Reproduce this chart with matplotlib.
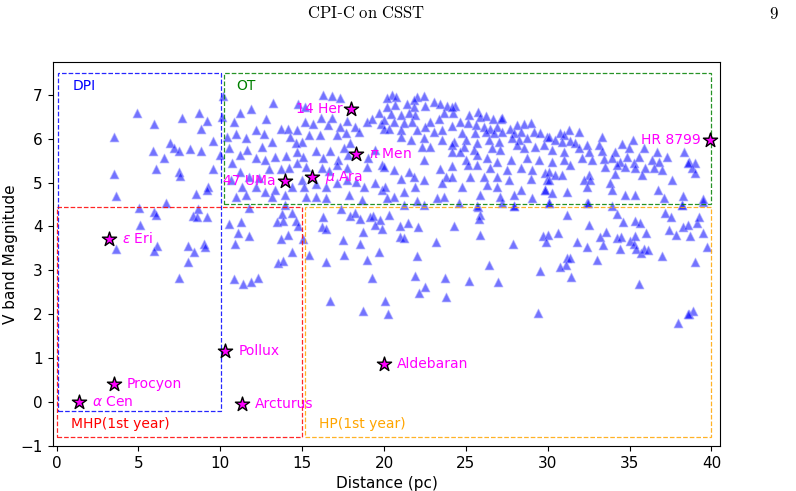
import numpy as np
import matplotlib
matplotlib.use("Agg")
import matplotlib.pyplot as plt
from matplotlib.patches import Rectangle

# --- target sample (distance in pc, V magnitude) ---
# DPI region (d < 10 pc)
dist_near = [4.89, 5.96, 3.48, 7.63, 8.69, 9.16, 8.84, 9.55, 6.94, 7.19, 7.45, 5.90,
             8.14, 8.83, 6.53, 9.98, 3.48, 6.05, 7.45, 7.55, 9.55, 9.24, 9.18, 8.53,
             3.62, 6.70, 5.05, 5.96, 6.09, 8.65, 8.35, 8.59, 9.16, 5.09, 3.64, 6.13,
             5.96, 8.04, 8.41, 8.98, 9.06, 8.02, 7.47]
vmag_near = [6.59, 6.33, 6.04, 6.48, 6.58, 6.40, 6.21, 5.95, 5.91, 5.79, 5.73, 5.72,
             5.76, 5.72, 5.56, 5.63, 5.19, 5.31, 5.25, 5.16, 5.31, 4.89, 4.83, 4.74,
             4.69, 4.54, 4.43, 4.32, 4.25, 4.39, 4.23, 4.22, 4.22, 4.03, 3.48, 3.56,
             3.45, 3.55, 3.42, 3.59, 3.52, 3.19, 2.82]

# fainter part below V = 4.5
dist_low = [11.77, 13.74, 14.35, 13.98, 13.48, 13.82, 14.64, 14.76, 10.53, 11.24, 11.11,
            11.77, 10.91, 13.72, 14.15, 15.04, 14.35, 13.50, 13.82, 15.41, 10.81, 11.38,
            11.87, 12.32, 16.27, 16.22, 16.47, 17.40, 17.93, 18.22, 18.53, 19.13, 19.30,
            19.73, 19.48, 19.87, 20.30, 18.71, 17.51, 18.56, 17.57, 19.69, 18.97, 16.43,
            19.26, 16.73, 18.73, 20.09, 20.23, 20.97, 21.44, 22.07, 20.95, 21.23, 23.17,
            24.27, 21.99, 21.90, 22.49, 22.13, 23.74, 23.76,
            25.73, 25.89, 25.79, 25.85, 26.42, 25.18, 26.95, 27.89, 31.19, 32.55, 29.74,
            30.00, 29.92, 30.64, 31.78, 32.39, 31.17, 31.39, 31.10, 30.78, 31.41, 29.52,
            29.42, 33.02, 33.18, 33.57, 33.38, 34.24, 34.58, 34.24, 34.50, 34.42, 35.01,
            35.26, 35.36, 35.40, 35.70, 35.87, 36.15, 35.36, 35.66, 35.99, 35.56, 36.97,
            37.17, 37.56, 37.40, 37.84, 38.25, 38.57, 38.68, 39.15, 39.25, 39.47, 39.74,
            38.98, 38.88, 38.62, 37.98, 38.57, 27.18, 27.97, 30.11, 32.43, 33.95, 38.23,
            39.50, 10.18, 10.12, 10.42]
vmag_low = [4.42, 4.28, 4.31, 4.48, 4.09, 4.13, 4.12, 4.02, 4.05, 4.09, 3.86,
            3.78, 3.60, 3.71, 3.80, 3.71, 3.42, 3.17, 3.21, 3.36, 2.81, 2.68,
            2.74, 2.83, 4.21, 3.99, 3.95, 4.39, 4.24, 4.30, 4.16, 4.21, 4.24,
            4.15, 4.03, 3.94, 4.26, 3.87, 3.69, 3.61, 3.36, 3.42, 3.23, 3.18,
            2.83, 2.29, 2.07, 2.29, 2.01, 4.01, 4.07, 3.99, 3.75, 3.74, 3.65,
            4.01, 3.33, 2.86, 2.63, 2.48, 2.82, 2.40,
            4.45, 4.26, 4.17, 3.81, 3.12, 2.76, 2.73, 3.61, 4.27, 4.03, 3.78,
            3.80, 3.64, 3.85, 3.65, 3.54, 3.29, 3.29, 3.11, 3.07, 2.85, 2.98,
            2.03, 3.23, 3.77, 3.87, 3.58, 4.28, 4.11, 3.73, 3.77, 3.48, 3.66,
            3.61, 3.78, 3.48, 3.40, 3.48, 3.46, 4.13, 4.08, 3.85, 2.69, 3.33,
            4.31, 4.22, 3.92, 3.80, 3.98, 4.04, 3.78, 4.08, 4.22, 3.86, 3.54,
            3.19, 2.08, 2.01, 1.81, 2.00, 4.53, 4.46, 4.54, 4.54, 4.46, 4.49,
            4.55, 6.97, 6.49, 6.04]

# OT region, 10-20 pc
dist_mid = [13.21, 16.27, 16.84, 17.32, 14.74, 15.17, 11.18, 11.85, 10.85, 12.19, 12.81,
            10.97, 11.59, 12.66, 13.68, 14.15, 14.66, 15.17, 15.65, 16.18, 16.59, 16.84,
            17.34, 17.75, 18.20, 18.97, 19.28, 19.79, 19.68, 19.99, 18.47, 17.65, 17.14,
            16.06, 15.41, 14.96, 14.60, 14.23, 13.17, 12.56, 11.64, 11.18, 10.53, 10.69,
            12.15, 12.76, 13.37, 14.03, 14.70, 15.04, 15.82, 16.27, 16.73, 17.18, 17.55,
            17.81, 17.95, 19.03, 19.48, 19.89, 18.97, 17.75, 17.14, 16.67, 16.22, 15.21,
            14.70, 14.19, 13.68, 12.97, 12.36, 11.74, 11.18, 10.63, 11.34, 12.15, 12.76,
            13.37, 14.39, 14.96, 15.10, 15.82, 16.47, 17.14, 17.75, 18.26, 18.77, 19.44,
            19.89, 13.98, 15.21, 15.82, 16.43, 17.85, 18.67, 11.54, 10.93, 13.17]
vmag_mid = [6.82, 6.99, 6.97, 6.92, 6.79, 6.73, 6.58, 6.67, 6.37, 6.20, 6.44,
            6.10, 6.01, 6.10, 6.21, 6.23, 6.20, 6.37, 6.33, 6.46, 6.31, 6.46,
            6.27, 6.41, 6.27, 6.37, 6.44, 6.33, 6.58, 6.23, 6.16, 6.12, 6.08,
            6.08, 6.08, 5.93, 5.89, 6.03, 5.93, 5.82, 5.74, 5.63, 5.78, 5.44,
            5.55, 5.51, 5.59, 5.60, 5.70, 5.59, 5.72, 5.57, 5.72, 5.51, 5.78,
            5.63, 5.89, 5.57, 5.74, 5.40, 5.36, 5.32, 5.40, 5.27, 5.32, 5.36,
            5.45, 5.32, 5.30, 5.30, 5.10, 5.13, 5.25, 5.06, 4.89, 4.90, 4.79,
            4.84, 4.90, 5.06, 4.90, 4.97, 4.89, 4.98, 5.06, 5.02, 4.90, 4.98,
            4.83, 4.72, 4.68, 4.68, 4.64, 4.72, 4.60, 4.72, 4.68, 4.68]

# OT region, 20-30 pc
dist_far = [20.50, 20.19, 20.76, 22.03, 22.43, 21.83, 20.70, 20.19, 21.42, 21.83, 22.53,
            23.04, 23.45, 23.86, 24.31, 23.65, 24.22, 25.18, 25.73, 25.89, 26.26, 26.67,
            27.15, 28.13, 28.58, 29.01, 20.40, 21.01, 21.52, 21.92, 19.99, 20.60, 21.21,
            21.72, 22.84, 23.35, 24.67, 25.12, 25.59, 24.16, 26.09, 26.50, 26.91, 27.69,
            20.30, 21.01, 22.03, 22.53, 23.04, 23.55, 24.78, 25.53, 26.26, 26.71, 27.22,
            27.93, 28.34, 29.15, 29.56, 29.97, 21.01, 21.62, 22.43, 23.55, 24.26, 24.98,
            25.69, 26.40, 27.01, 27.83, 28.23, 28.74, 28.13, 28.54, 29.25, 29.76, 22.33,
            22.80, 24.16, 24.87, 25.48, 26.60, 27.11, 24.16, 24.67, 25.69, 26.30, 26.91,
            27.73, 28.74, 29.45, 22.43, 24.16, 24.98, 25.12, 25.69, 26.50, 27.52, 28.34,
            29.05, 29.86, 20.60, 21.52, 23.41, 19.99, 21.01, 21.83, 22.43, 23.76, 24.16,
            25.28, 26.09, 26.91, 27.63, 28.95, 29.97, 20.09, 21.21, 21.92, 23.55, 24.78,
            26.30, 26.91, 28.34, 29.86, 20.60, 22.03, 23.25, 23.65, 25.89, 27.11, 27.93,
            29.05, 21.21, 22.43, 24.57, 25.69, 27.93, 20.19, 24.16, 27.22]
vmag_far = [6.99, 6.92, 6.95, 6.95, 6.97, 6.88, 6.77, 6.73, 6.79, 6.73, 6.75,
            6.84, 6.80, 6.74, 6.74, 6.58, 6.58, 6.54, 6.61, 6.50, 6.52, 6.44,
            6.44, 6.31, 6.33, 6.35, 6.56, 6.54, 6.58, 6.54, 6.42, 6.39, 6.35,
            6.39, 6.39, 6.44, 6.37, 6.35, 6.31, 6.29, 6.27, 6.23, 6.27, 6.23,
            6.23, 6.20, 6.20, 6.27, 6.16, 6.20, 6.12, 6.12, 6.16, 6.12, 6.16,
            6.12, 6.16, 6.16, 6.12, 6.04, 6.04, 5.98, 6.01, 5.98, 5.93, 5.97,
            5.89, 5.97, 5.93, 6.01, 5.97, 6.01, 5.85, 5.78, 5.82, 5.85, 5.82,
            5.82, 5.85, 5.82, 5.74, 5.78, 5.74, 5.70, 5.70, 5.63, 5.55, 5.47,
            5.51, 5.57, 5.51, 5.51, 5.38, 5.51, 5.40, 5.40, 5.32, 5.28, 5.32,
            5.28, 5.21, 5.28, 5.25, 5.30, 5.36, 5.07, 5.12, 5.06, 5.13, 5.13,
            5.13, 5.13, 5.13, 5.06, 5.09, 5.06, 4.90, 4.79, 4.90, 4.98, 4.90,
            4.94, 4.90, 4.83, 4.83, 4.68, 4.59, 4.64, 4.68, 4.72, 4.68, 4.72,
            4.64, 4.49, 4.49, 4.53, 4.46, 4.46, 4.64, 6.73, 6.46]

# OT region, 30-40 pc
dist_edge = [30.78, 31.28, 31.90, 30.98, 30.06, 30.47, 30.88, 31.39, 31.69, 32.41, 33.32,
             33.12, 34.55, 35.20, 34.95, 34.14, 35.87, 36.68, 38.31, 30.27, 30.98, 31.90,
             32.52, 33.32, 30.27, 30.98, 31.39, 32.10, 32.71, 33.42, 33.93, 34.44, 34.85,
             35.26, 35.56, 36.38, 36.79, 37.30, 38.62, 38.98, 33.53, 34.24, 34.75, 35.36,
             35.97, 36.48, 36.99, 38.82, 30.06, 30.47, 30.88, 32.52, 34.14, 35.77, 37.60,
             30.06, 32.21, 32.61, 33.83, 32.41, 33.93, 29.86, 30.27, 31.19, 34.75, 35.32,
             36.74, 37.08, 38.25, 39.47, 30.06, 32.46, 38.21, 39.02, 38.60]
vmag_edge = [6.13, 6.20, 6.16, 6.08, 6.04, 5.97, 5.93, 5.95, 5.89, 5.85, 6.03,
             5.85, 5.88, 5.97, 5.78, 5.70, 5.78, 5.70, 5.70, 5.74, 5.70, 5.78,
             5.70, 5.72, 5.47, 5.51, 5.40, 5.55, 5.51, 5.53, 5.55, 5.47, 5.59,
             5.44, 5.59, 5.51, 5.47, 5.59, 5.47, 5.44, 5.36, 5.40, 5.36, 5.32,
             5.32, 5.32, 5.28, 5.32, 5.25, 5.17, 5.17, 5.17, 5.19, 5.17, 5.06,
             5.06, 5.06, 5.06, 4.98, 4.90, 4.83, 4.83, 4.77, 4.79, 4.72, 4.72,
             4.83, 4.64, 4.69, 4.62, 4.53, 4.53, 4.49, 5.21, 5.45]

# named bright stars
star_names = [r"$\alpha$ Cen", "Procyon", r"$\epsilon$ Eri", "Pollux", "Arcturus",
              "Aldebaran", "47 UMa", r"$\mu$ Ara", "14 Her", r"$\pi$ Men", "HR 8799"]
star_dist = [1.35, 3.5, 3.2, 10.3, 11.3, 20.0, 13.95, 15.6, 18.0, 18.3, 39.9]
star_vmag = [0.0, 0.4, 3.72, 1.16, -0.05, 0.87, 5.03, 5.12, 6.67, 5.65, 5.96]
label_left = [False, False, False, False, False, False, True, False, True, False, True]

dist = np.concatenate([dist_near, dist_low, dist_mid, dist_far, dist_edge])
vmag = np.concatenate([vmag_near, vmag_low, vmag_mid, vmag_far, vmag_edge])

# --- plot ---
fig = plt.figure(figsize=(7.96, 4.91), dpi=100)
ax = fig.add_axes([0.066, 0.092, 0.839, 0.782])

# page header of the paper the figure was cut from
fig.text(0.46, 0.972, r"$\mathrm{CPI}$-$\mathrm{C\ on\ CSST}$", ha="center",
         va="center", fontsize=12, family="DejaVu Serif", math_fontfamily="cm")
fig.text(0.972, 0.972, r"$\mathrm{9}$", ha="center", va="center", fontsize=12,
         math_fontfamily="cm")

ax.scatter(dist, vmag, marker="^", s=40, color="blue", alpha=0.55,
           edgecolors="#a0a0ff", linewidths=0.8, zorder=2)

# observing regions
box = dict(fill=False, ls="--", lw=0.9, alpha=0.85, zorder=3)
ax.add_patch(Rectangle((0.1, -0.2), 9.95, 7.7, ec="blue", **box))
ax.add_patch(Rectangle((10.2, 4.5), 29.8, 3.0, ec="green", **box))
ax.add_patch(Rectangle((0.05, -0.8), 14.95, 5.25, ec="red", **box))
ax.add_patch(Rectangle((15.2, -0.8), 24.8, 5.25, ec="orange", **box))
ax.text(1.0, 7.1, "DPI", color="blue", fontsize=10, zorder=5)
ax.text(11.0, 7.1, "OT", color="green", fontsize=10, zorder=5)
ax.text(0.9, -0.6, "MHP(1st year)", color="red", fontsize=10, zorder=5)
ax.text(16.0, -0.6, "HP(1st year)", color="orange", fontsize=10, zorder=5)

ax.scatter(star_dist, star_vmag, marker="*", s=115, color="magenta",
           edgecolors="black", linewidths=1.0, zorder=4)
for name, d, v, left in zip(star_names, star_dist, star_vmag, label_left):
    if left:
        ax.text(d - 0.55, v, name, color="magenta", fontsize=10, ha="right",
                va="center", zorder=5)
    else:
        ax.text(d + 0.8, v, name, color="magenta", fontsize=10, ha="left",
                va="center", zorder=5)

ax.set_xlim(-0.25, 40.55)
ax.set_ylim(-1, 7.75)
ax.set_xticks(range(0, 41, 5))
ax.set_yticks(range(-1, 8))
ax.tick_params(labelsize=11)
ax.set_xlabel("Distance (pc)", fontsize=11)
ax.set_ylabel("V band Magnitude", fontsize=11, labelpad=2)

fig.savefig("out.png", dpi=100)
